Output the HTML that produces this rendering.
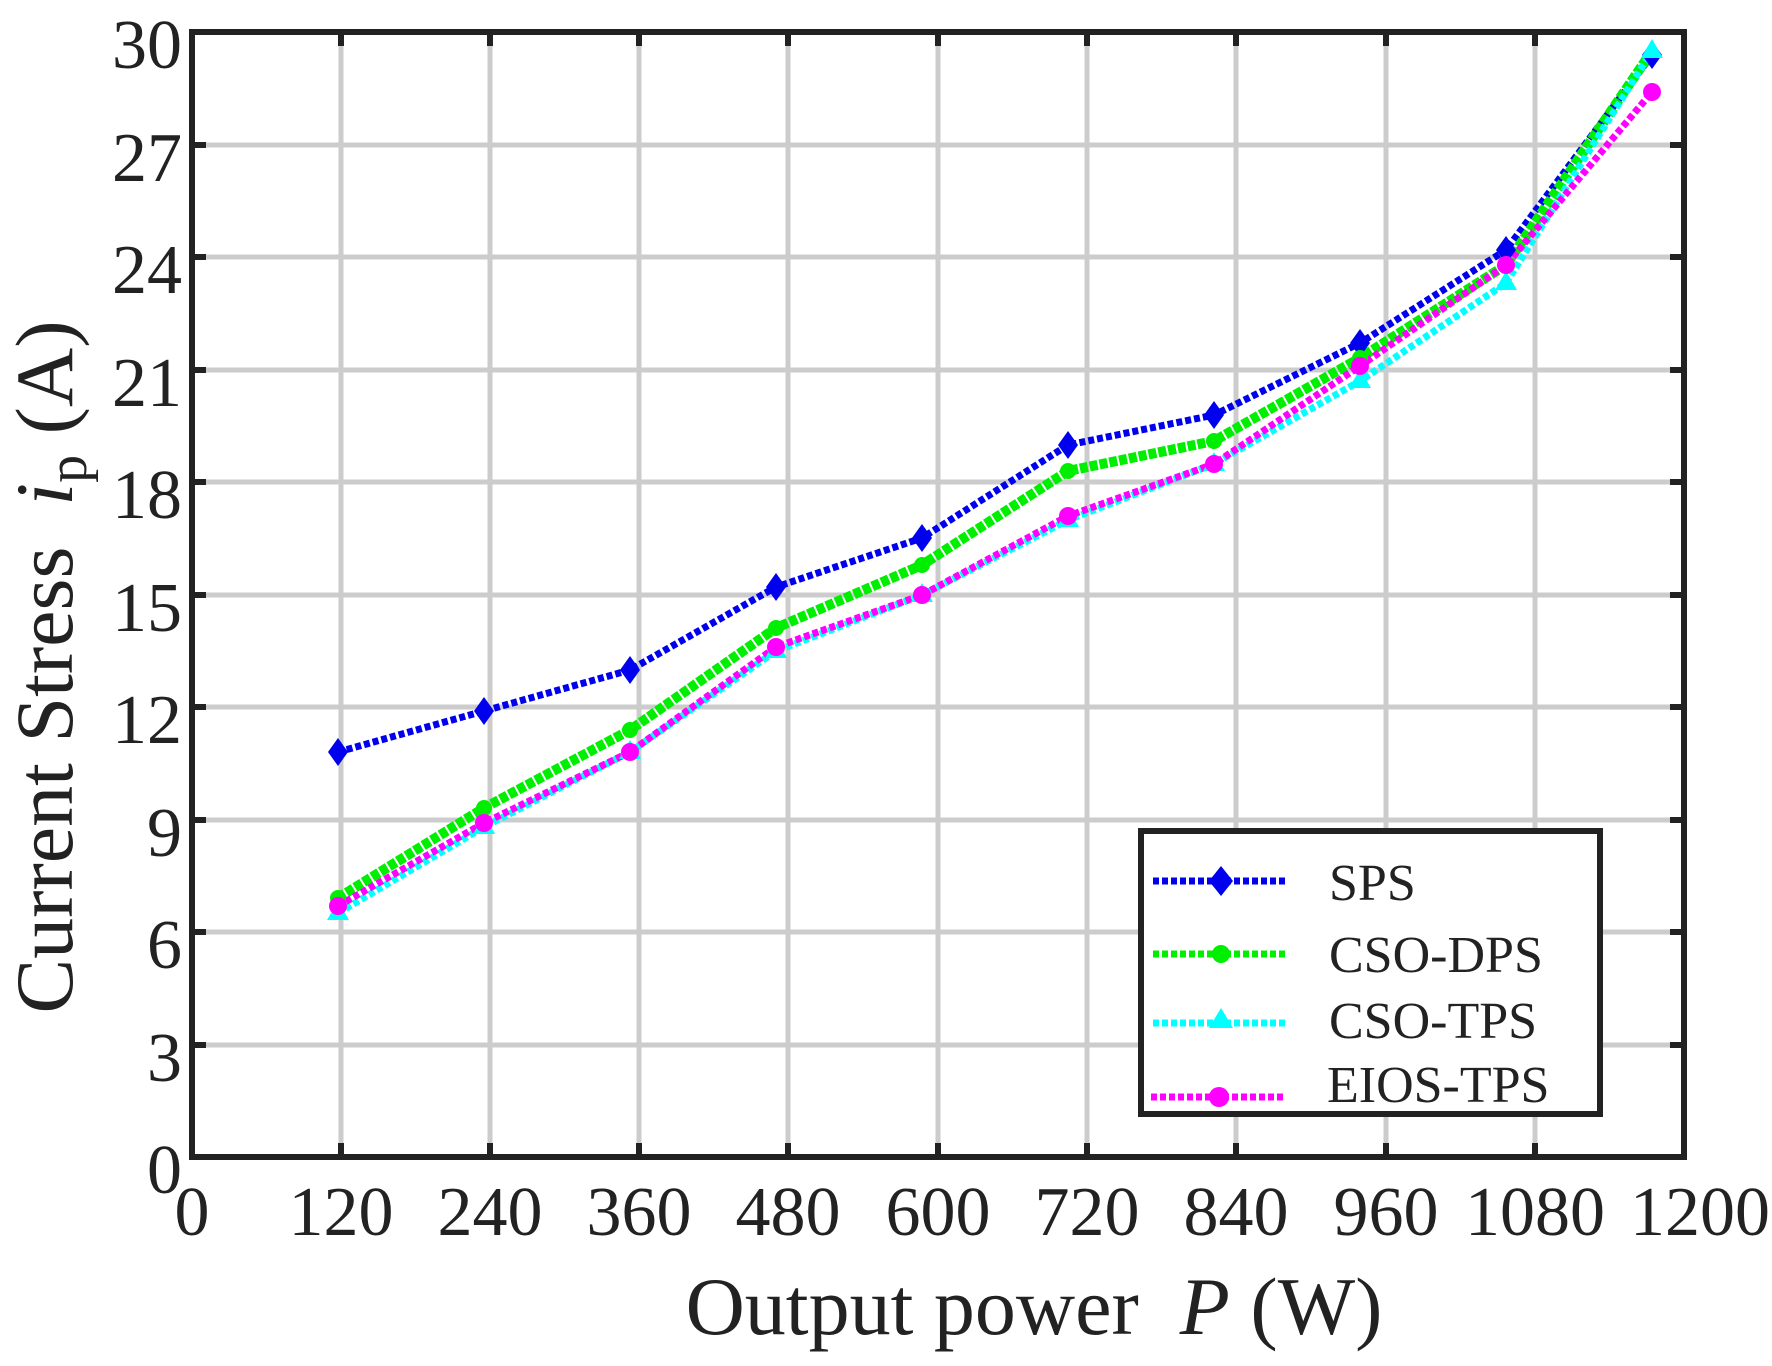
<!DOCTYPE html>
<html><head><meta charset="utf-8"><style>body{margin:0;background:#fff}svg{display:block}text{font-family:"Liberation Serif",serif;fill:#222}</style></head><body>
<svg width="1772" height="1366" viewBox="0 0 1772 1366" xmlns="http://www.w3.org/2000/svg">
<g stroke="#cccccc" stroke-width="5">
<line x1="341" y1="32" x2="341" y2="1157"/><line x1="490" y1="32" x2="490" y2="1157"/><line x1="639" y1="32" x2="639" y2="1157"/><line x1="788" y1="32" x2="788" y2="1157"/><line x1="938" y1="32" x2="938" y2="1157"/><line x1="1087" y1="32" x2="1087" y2="1157"/><line x1="1236" y1="32" x2="1236" y2="1157"/><line x1="1386" y1="32" x2="1386" y2="1157"/><line x1="1535" y1="32" x2="1535" y2="1157"/>
<line x1="192" y1="1045" x2="1684" y2="1045"/><line x1="192" y1="932" x2="1684" y2="932"/><line x1="192" y1="820" x2="1684" y2="820"/><line x1="192" y1="707" x2="1684" y2="707"/><line x1="192" y1="595" x2="1684" y2="595"/><line x1="192" y1="482" x2="1684" y2="482"/><line x1="192" y1="370" x2="1684" y2="370"/><line x1="192" y1="257" x2="1684" y2="257"/><line x1="192" y1="145" x2="1684" y2="145"/>
</g>
<g stroke="#222" stroke-width="6">
<path d="M341 1157v-14M490 1157v-14M639 1157v-14M788 1157v-14M938 1157v-14M1087 1157v-14M1236 1157v-14M1386 1157v-14M1535 1157v-14M341 32v14M490 32v14M639 32v14M788 32v14M938 32v14M1087 32v14M1236 32v14M1386 32v14M1535 32v14"/>
<path d="M192 1045h14M192 932h14M192 820h14M192 707h14M192 595h14M192 482h14M192 370h14M192 257h14M192 145h14M1684 1045h-14M1684 932h-14M1684 820h-14M1684 707h-14M1684 595h-14M1684 482h-14M1684 370h-14M1684 257h-14M1684 145h-14"/>
</g>
<g fill="none" stroke-width="7" stroke-dasharray="6 3">
<polyline stroke="#0000ee" points="338,752 484,711 630,670 776,587 922,538 1068,445 1214,415 1360,343 1506,250 1652,55"/>
<polyline stroke="#00ee00" stroke-width="10" stroke-dasharray="8 2" points="338,898 484,808 630,730 776,628 922,565 1068,471 1214,441 1360,358 1506,265 1652,51"/>
<polyline stroke="#00ffff" points="338,913 484,827 630,752 776,651 922,595 1068,520 1214,464 1360,381 1506,283 1652,51"/>
<polyline stroke="#ff00ff" points="338,906 484,823 630,752 776,647 922,595 1068,516 1214,464 1360,366 1506,265 1652,92"/>
</g>
<g fill="#0000ee">
<path d="M338 738l10 14-10 14-10-14z"/><path d="M484 697l10 14-10 14-10-14z"/><path d="M630 656l10 14-10 14-10-14z"/><path d="M776 573l10 14-10 14-10-14z"/><path d="M922 524l10 14-10 14-10-14z"/><path d="M1068 431l10 14-10 14-10-14z"/><path d="M1214 401l10 14-10 14-10-14z"/><path d="M1360 329l10 14-10 14-10-14z"/><path d="M1506 236l10 14-10 14-10-14z"/><path d="M1652 41l10 14-10 14-10-14z"/>
</g>
<g fill="#00ee00"><circle cx="338" cy="898" r="8"/><circle cx="484" cy="808" r="8"/><circle cx="630" cy="730" r="8"/><circle cx="776" cy="628" r="8"/><circle cx="922" cy="565" r="8"/><circle cx="1068" cy="471" r="8"/><circle cx="1214" cy="441" r="8"/><circle cx="1360" cy="358" r="8"/><circle cx="1506" cy="265" r="8"/></g>
<g fill="#00ffff"><path d="M338 901l11 19h-22z"/><path d="M484 815l11 19h-22z"/><path d="M630 740l11 19h-22z"/><path d="M776 639l11 19h-22z"/><path d="M922 583l11 19h-22z"/><path d="M1068 508l11 19h-22z"/><path d="M1214 452l11 19h-22z"/><path d="M1360 369l11 19h-22z"/><path d="M1506 271l11 19h-22z"/><path d="M1652 39l11 19h-22z"/></g>
<g fill="#ff00ff"><circle cx="338" cy="906" r="9"/><circle cx="484" cy="823" r="9"/><circle cx="630" cy="752" r="9"/><circle cx="776" cy="647" r="9"/><circle cx="922" cy="595" r="9"/><circle cx="1068" cy="516" r="9"/><circle cx="1214" cy="464" r="9"/><circle cx="1360" cy="366" r="9"/><circle cx="1506" cy="265" r="9"/><circle cx="1652" cy="92" r="9"/></g>
<rect x="192" y="32" width="1492" height="1125" fill="none" stroke="#222" stroke-width="6"/>
<rect x="1141" y="831" width="459" height="283" fill="#fff" stroke="#222" stroke-width="6"/>
<g stroke-width="7" stroke-dasharray="6 3">
<line x1="1153" y1="881" x2="1288" y2="881" stroke="#0000ee"/>
<line x1="1153" y1="954" x2="1288" y2="954" stroke="#00ee00"/>
<line x1="1153" y1="1023" x2="1288" y2="1023" stroke="#00ffff"/>
<line x1="1151" y1="1097" x2="1286" y2="1097" stroke="#ff00ff"/>
</g>
<path d="M1221 866l12 15-12 15-12-15z" fill="#0000ee"/>
<circle cx="1221" cy="954" r="9" fill="#00ee00"/>
<path d="M1221 1008l12 20h-24z" fill="#00ffff"/>
<circle cx="1219" cy="1097" r="10" fill="#ff00ff"/>
<g font-size="52" fill="#000">
<text x="1329" y="900">SPS</text><text x="1329" y="972">CSO-DPS</text><text x="1329" y="1038">CSO-TPS</text><text x="1327" y="1102">EIOS-TPS</text>
</g>
<g font-size="70" text-anchor="end">
<text x="182" y="68">30</text><text x="182" y="181">27</text><text x="182" y="293">24</text><text x="182" y="406">21</text><text x="182" y="518">18</text><text x="182" y="631">15</text><text x="182" y="743">12</text><text x="182" y="856">9</text><text x="182" y="968">6</text><text x="182" y="1081">3</text><text x="182" y="1193">0</text>
</g>
<g font-size="70" text-anchor="middle">
<text x="192" y="1235">0</text><text x="341" y="1235">120</text><text x="490" y="1235">240</text><text x="639" y="1235">360</text><text x="788" y="1235">480</text><text x="938" y="1235">600</text><text x="1087" y="1235">720</text><text x="1236" y="1235">840</text><text x="1386" y="1235">960</text><text x="1535" y="1235">1080</text><text x="1700" y="1235">1200</text>
</g>
<text x="1034" y="1334" font-size="82" text-anchor="middle" xml:space="preserve">Output power  <tspan font-style="italic">P</tspan> (W)</text>
<text transform="translate(72,667) rotate(-90)" font-size="82" text-anchor="middle" xml:space="preserve">Current Stress  <tspan font-style="italic">i</tspan><tspan font-size="56" dy="14">p</tspan><tspan dy="-14"> (A)</tspan></text>
</svg>
</body></html>
